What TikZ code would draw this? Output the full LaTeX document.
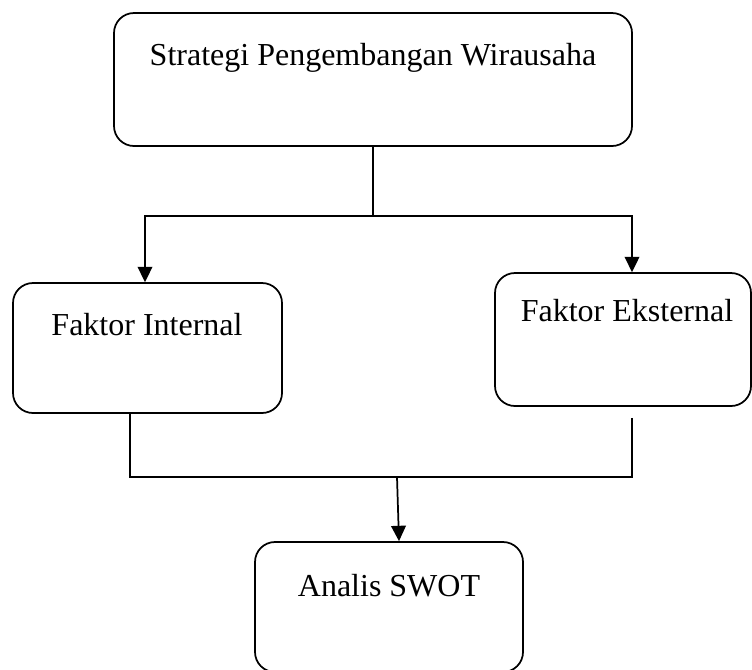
\documentclass[tikz,border=0pt]{standalone}
\usepackage{fontspec}
\setmainfont{Liberation Serif}
\usetikzlibrary{arrows.meta}
\usetikzlibrary{calc}

\begin{document}
\begin{tikzpicture}[x=0.75pt,y=0.75pt,yscale=-1,xscale=1,line width=1.3pt,
  kotak/.style={draw, rounded corners=15pt, inner sep=0pt},
  panah/.style={-{Triangle[length=11.5pt,width=11pt]}},
  judul/.style={font=\fontsize{24}{28}\selectfont, anchor=base, inner sep=0pt}]
\useasboundingbox (0,0) rectangle (752,669);

%Rounded Rect: strategi
\node[kotak, minimum width=388.5pt, minimum height=99.75pt] (strategi) at (373,79.5) {};
%Rounded Rect: faktor internal
\node[kotak, minimum width=201.75pt, minimum height=97.5pt] (internal) at (147.5,348) {};
%Rounded Rect: faktor eksternal
\node[kotak, minimum width=192pt, minimum height=99.75pt] (eksternal) at (623,339.5) {};
%Rounded Rect: analis swot
\node[kotak, minimum width=201pt, minimum height=97.5pt] (swot) at (389,607) {};

%Text
\node[judul] (tStrategi) at (373,65) {Strategi Pengembangan Wirausaha};
\node[judul] (tInternal) at (147,335) {Faktor Internal};
\node[judul] (tEksternal) at (627,321) {Faktor Eksternal};
\node[judul] (tSwot) at (389,596) {Analis SWOT};

%Straight Lines
\coordinate (cabang) at (372,216);
\coordinate (gabung) at (397,477);
\draw (strategi.south) -- (strategi.south |- cabang);
\draw[panah] (strategi.south |- cabang) -| ($(internal.north)+(-2.5,0)$);
\draw[panah] (strategi.south |- cabang) -| ($(eksternal.north)+(9,0)$);

\draw ($(internal.south)+(-17.5,0)$) |- (gabung);
\draw ($(eksternal.south)+(9,11)$) |- (gabung);
\draw[panah] (gabung) -- ($(swot.north)+(10,0)$);

\end{tikzpicture}
\end{document}
